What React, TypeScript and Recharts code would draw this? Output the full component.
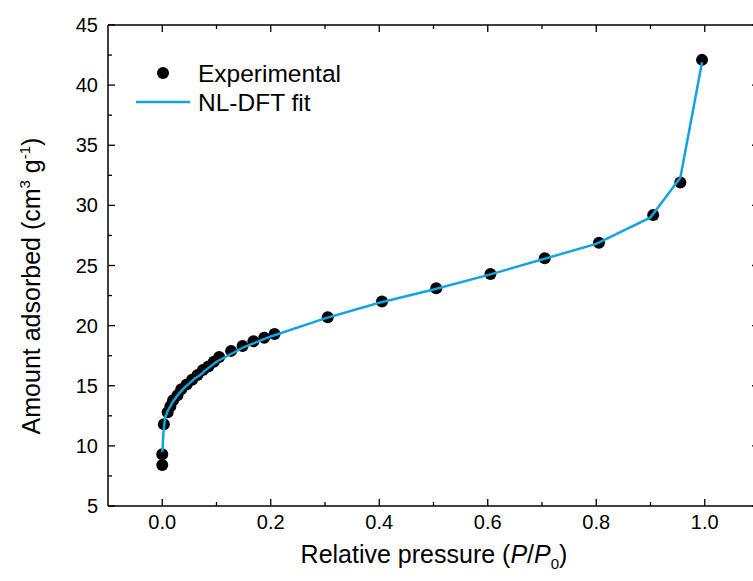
import React from 'react';
import { ScatterChart, Scatter, XAxis, YAxis } from 'recharts';

// experimental isotherm points (P/P0, cm3/g)
const expPressure = [0.0, 0.0, 0.003, 0.01, 0.015, 0.02, 0.028, 0.035, 0.045, 0.055, 0.065, 0.075, 0.085, 0.095, 0.105, 0.127, 0.148, 0.168, 0.188, 0.207, 0.305, 0.405, 0.505, 0.605, 0.705, 0.805, 0.905, 0.955, 0.995];
const expAmount = [8.4, 9.3, 11.8, 12.8, 13.3, 13.8, 14.2, 14.7, 15.1, 15.5, 15.9, 16.3, 16.6, 17.0, 17.4, 17.9, 18.3, 18.7, 19.0, 19.3, 20.7, 22.0, 23.1, 24.3, 25.6, 26.9, 29.2, 31.9, 42.1];

// NL-DFT fit curve
const fitPressure = [0.0003, 0.002, 0.005, 0.01, 0.02, 0.03, 0.04, 0.05, 0.06, 0.07, 0.08, 0.1, 0.15, 0.2, 0.3, 0.4, 0.5, 0.6, 0.7, 0.8, 0.9, 0.955, 0.995];
const fitAmount = [9.5, 11.0, 12.3, 12.9, 13.7, 14.3, 14.8, 15.2, 15.6, 15.9, 16.3, 17.0, 18.2, 19.1, 20.6, 21.9, 23.0, 24.2, 25.5, 26.8, 29.0, 32.3, 41.9];

const xTicks = [0.0, 0.1, 0.2, 0.3, 0.4, 0.5, 0.6, 0.7, 0.8, 0.9, 1.0];
const xMajor = [0.0, 0.2, 0.4, 0.6, 0.8, 1.0];
const yTicks = [5, 7.5, 10, 12.5, 15, 17.5, 20, 22.5, 25, 27.5, 30, 32.5, 35, 37.5, 40, 42.5, 45];
const yMajor = [5, 10, 15, 20, 25, 30, 35, 40, 45];

const expData = expPressure.map((x, i) => ({ x, y: expAmount[i] }));
const fitData = fitPressure.map((x, i) => ({ x, y: fitAmount[i] }));

const FONT = '"Liberation Sans", Arial, sans-serif';
const BLUE = '#12a3e0';

const isMajor = (list: number[], v: number) => list.some((m) => Math.abs(m - v) < 1e-6);

function AxisTick(props: any) {
  const { x, y, payload, side } = props;
  const v = payload.value;
  const major = isMajor(side === 'bottom' || side === 'top' ? xMajor : yMajor, v);
  const len = major ? 7 : 4;
  const stroke = { stroke: '#000', strokeWidth: 1.3 };
  if (side === 'bottom') {
    return (
      <g>
        <line x1={x} y1={y} x2={x} y2={y - len} {...stroke} />
        {major && (
          <text x={x} y={y + 23} textAnchor="middle" fontSize={20} fontFamily={FONT} fill="#000">
            {v.toFixed(1)}
          </text>
        )}
      </g>
    );
  }
  if (side === 'top') {
    return <line x1={x} y1={y} x2={x} y2={y + len} {...stroke} />;
  }
  if (side === 'left') {
    return (
      <g>
        <line x1={x} y1={y} x2={x + len} y2={y} {...stroke} />
        {major && (
          <text x={x - 10} y={y} dy="0.35em" textAnchor="end" fontSize={20} fontFamily={FONT} fill="#000">
            {v}
          </text>
        )}
      </g>
    );
  }
  return <line x1={x} y1={y} x2={x - len} y2={y} {...stroke} />;
}

const Dot = (props: any) => <circle cx={props.cx} cy={props.cy} r={6} fill="#000" />;
const NoShape = () => <g />;

export default function App() {
  const axisLine = { stroke: '#000', strokeWidth: 1.5 };
  return (
    <div style={{ position: 'fixed', left: 0, top: 0, width: 753, height: 581, overflow: 'hidden', background: '#fff' }}>
      <ScatterChart width={800} height={581} margin={{ top: 24, right: 40, bottom: 74, left: 107 }}>
        <XAxis
          xAxisId="b"
          dataKey="x"
          type="number"
          orientation="bottom"
          domain={[-0.1, 1.1]}
          ticks={xTicks}
          height={1}
          tickSize={0}
          tickMargin={0}
          tickLine={false}
          axisLine={axisLine}
          interval={0}
          allowDataOverflow
          tick={(p: any) => <AxisTick {...p} side="bottom" />}
        />
        <XAxis
          xAxisId="t"
          dataKey="x"
          type="number"
          orientation="top"
          domain={[-0.1, 1.1]}
          ticks={xTicks}
          height={1}
          tickSize={0}
          tickMargin={0}
          tickLine={false}
          axisLine={axisLine}
          interval={0}
          allowDataOverflow
          tick={(p: any) => <AxisTick {...p} side="top" />}
        />
        <YAxis
          yAxisId="l"
          dataKey="y"
          type="number"
          orientation="left"
          domain={[5, 45]}
          ticks={yTicks}
          width={1}
          tickSize={0}
          tickMargin={0}
          tickLine={false}
          axisLine={axisLine}
          interval={0}
          allowDataOverflow
          tick={(p: any) => <AxisTick {...p} side="left" />}
        />
        <YAxis
          yAxisId="r"
          dataKey="y"
          type="number"
          orientation="right"
          domain={[5, 45]}
          ticks={yTicks}
          width={1}
          tickSize={0}
          tickMargin={0}
          tickLine={false}
          axisLine={axisLine}
          interval={0}
          allowDataOverflow
          tick={(p: any) => <AxisTick {...p} side="right" />}
        />
        <Scatter xAxisId="b" yAxisId="l" data={expData} shape={Dot} isAnimationActive={false} />
        <Scatter
          xAxisId="b"
          yAxisId="l"
          data={fitData}
          line={{ stroke: BLUE, strokeWidth: 2.5 }}
          lineType="joint"
          shape={NoShape}
          isAnimationActive={false}
        />
      </ScatterChart>

      {/* legend */}
      <svg style={{ position: 'absolute', left: 0, top: 0 }} width={753} height={581} pointerEvents="none">
        <circle cx={163} cy={73} r={6} fill="#000" />
        <text x={198} y={73} dy="0.35em" fontSize={24.5} fontFamily={FONT} fill="#000">Experimental</text>
        <line x1={136} y1={102} x2={190} y2={102} stroke={BLUE} strokeWidth={2.5} />
        <text x={198} y={102} dy="0.35em" fontSize={24.5} fontFamily={FONT} fill="#000">NL-DFT fit</text>

        {/* axis titles */}
        <text x={434} y={563} textAnchor="middle" fontSize={25} fontFamily={FONT} fill="#000">
          Relative pressure (<tspan fontStyle="italic">P</tspan>/<tspan fontStyle="italic">P</tspan>
          <tspan fontSize={15} dy={6}>0</tspan>
          <tspan dy={-6}>)</tspan>
        </text>
        <text
          transform="translate(40,286) rotate(-90)"
          textAnchor="middle"
          fontSize={25}
          fontFamily={FONT}
          fill="#000"
        >
          Amount adsorbed (cm<tspan fontSize={15} dy={-10}>3</tspan>
          <tspan dy={10}> g</tspan>
          <tspan fontSize={15} dy={-10}>-1</tspan>
          <tspan dy={10}>)</tspan>
        </text>
      </svg>
    </div>
  );
}
